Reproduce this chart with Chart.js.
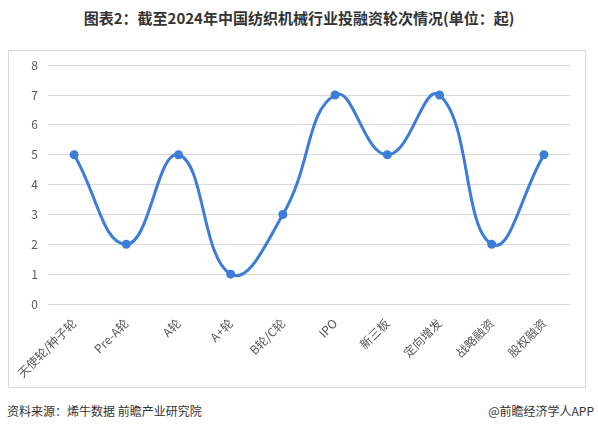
<!DOCTYPE html>
<html>
<head>
<meta charset="utf-8">
<script src="https://cdn.jsdelivr.net/npm/chart.js@4"></script>
<style>
  body { margin: 0; width: 598px; height: 434px; background: #fff; position: relative; overflow: hidden;
         font-family: "Noto Sans CJK SC", "Noto Sans", sans-serif; }
  #title { position: absolute; left: 0; top: 7px; width: 598px; text-align: center;
           font-size: 15px; font-weight: bold; color: #333; }
  #box { position: absolute; left: 8px; top: 50px; width: 576px; height: 336px; border: 1px solid #d9d9d9; }
  #roundChart { position: absolute; left: 9px; top: 48px; }
  #source { position: absolute; left: 7px; top: 402px; font-size: 12px; color: #333; }
  #app { position: absolute; right: 4px; top: 402px; font-size: 12px; color: #333; }
</style>
</head>
<body>
<div id="title">图表2：截至2024年中国纺织机械行业投融资轮次情况(单位：起)</div>
<div id="box"></div>
<canvas id="roundChart" width="576" height="339"></canvas>
<div id="source">资料来源：烯牛数据 前瞻产业研究院</div>
<div id="app">@前瞻经济学人APP</div>
<script>
// DATA
const rounds = ['天使轮/种子轮', 'Pre-A轮', 'A轮', 'A+轮', 'B轮/C轮', 'IPO', '新三板', '定向增发', '战略融资', '股权融资'];
const dealCounts = [5, 2, 5, 1, 3, 7, 5, 7, 2, 5];
const yTicks = [0, 1, 2, 3, 4, 5, 6, 7, 8];

const lineColor = '#3b7dd8';
const tickFont = { family: '"Noto Sans CJK SC", "Noto Sans", sans-serif', size: 12 };

const ctx = document.getElementById('roundChart');
const roundChart = new Chart(ctx, {
    type: 'line',
    data: {
        labels: rounds,
        datasets: [{
            data: dealCounts,
            borderColor: lineColor,
            backgroundColor: lineColor,
            borderWidth: 3,
            pointRadius: 3,
            pointHoverRadius: 3,
            tension: 0.45
        }]
    },
    options: {
        responsive: false,
        animation: false,
        layout: { padding: { top: 11, right: 15, left: 0, bottom: 0 } },
        plugins: { legend: { display: false }, tooltip: { enabled: false } },
        scales: {
            x: {
                offset: true,
                grid: { display: false },
                border: { display: false },
                ticks: { color: '#595959', font: tickFont, minRotation: 45, maxRotation: 45, padding: 4 },
                afterFit: (axis) => { axis.height = 83; }
            },
            y: {
                min: 0,
                max: 8,
                afterBuildTicks: (axis) => { axis.ticks = yTicks.map(v => ({ value: v })); },
                grid: { color: '#d9d9d9', drawTicks: false },
                border: { display: false },
                ticks: { color: '#595959', font: tickFont, padding: 10 },
                afterFit: (axis) => { axis.width = 39; }
            }
        }
    }
});
</script>
</body>
</html>
